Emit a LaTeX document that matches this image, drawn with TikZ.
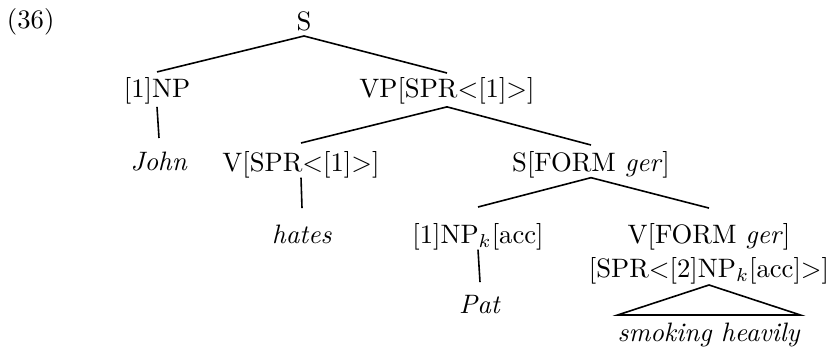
\documentclass[tikz,border=0pt]{standalone}
\begin{document}
\begin{tikzpicture}[x=0.375pt,y=-0.375pt,
  lbl/.style={anchor=base,inner sep=0pt,outer sep=0pt,text height=7.5pt,text depth=2.5pt},
  branch/.style={line width=0.6pt}]
\useasboundingbox (0,0) rectangle (829,353);

% example number
\node[lbl,anchor=base west] (num) at (7,28) {(36)};

% tree nodes (positions are baselines)
\node[lbl] (s)     at (304,30)  {S};
\node[lbl] (np)    at (157,97)  {[1]NP};
\node[lbl] (vp)    at (447,97)  {VP[SPR$<$[1]$>$]};
\node[lbl] (john)  at (159,170) {\textit{John}};
\node[lbl] (v)     at (301,171) {V[SPR$<$[1]$>$]};
\node[lbl] (sf)    at (591,171) {S[FORM \textit{ger}]};
\node[lbl] (hates) at (302,243) {\textit{hates}};
\node[lbl] (npk)   at (478,243) {[1]NP$_k$[acc]};
\node[lbl] (vf)    at (709,243) {V[FORM \textit{ger}]};
\node[lbl] (vfspr) at (709,277) {[SPR$<$[2]NP$_k$[acc]$>$]};
\node[lbl] (pat)   at (480,313) {\textit{Pat}};
\node[lbl] (smoke) at (709,341) {\textit{smoking heavily}};

% branches
\draw[branch] ([yshift=0.25pt]s.south)  -- ([yshift=1.9pt]np.north);
\draw[branch] ([yshift=0.25pt]s.south)  -- ([yshift=1.5pt]vp.north);
\draw[branch] ([yshift=-1.2pt]np.south) -- ([yshift=4.5pt]john.north);
\draw[branch] ([yshift=-1.2pt]vp.south) -- ([yshift=3pt]v.north);
\draw[branch] ([yshift=-1.2pt]vp.south) -- ([yshift=2.25pt]sf.north);
\draw[branch] (v.south)   -- ([yshift=5.6pt]hates.north);
\draw[branch] (sf.south)  -- ([yshift=6pt]npk.north);
\draw[branch] (sf.south)  -- ([yshift=5.6pt]vf.north);
\draw[branch] (npk.south) -- ([yshift=4.1pt]pat.north);

% triangle over the unanalysed phrase
\draw[branch] ([yshift=-0.5pt]vfspr.south)
  -- ([yshift=2.25pt]smoke.north west)
  -- ([yshift=2.25pt]smoke.north east) -- cycle;
\end{tikzpicture}
\end{document}
